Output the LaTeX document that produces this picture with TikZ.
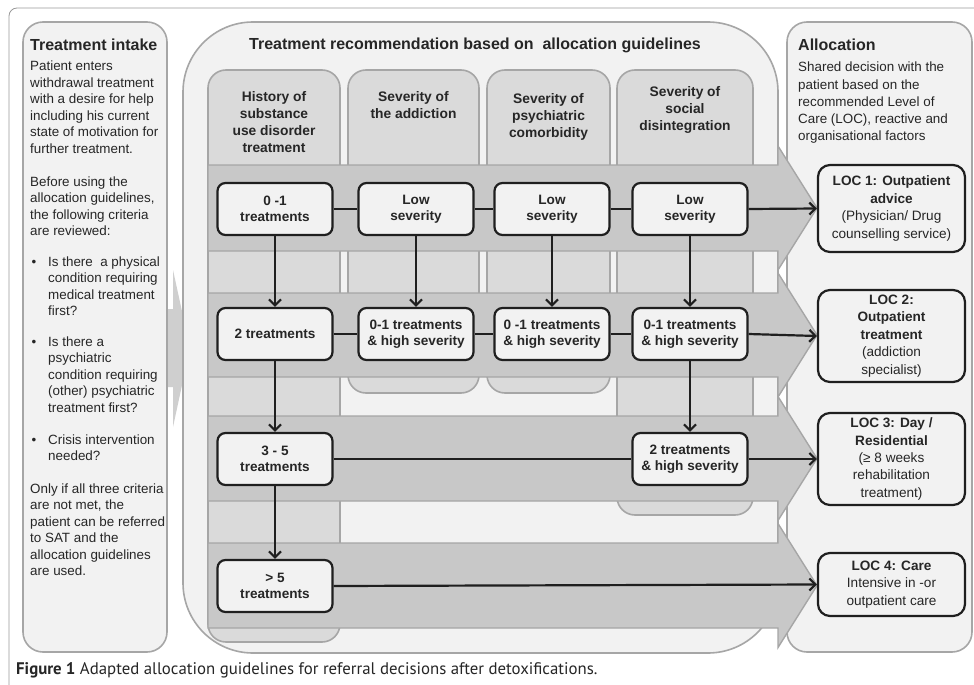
\documentclass[tikz,border=0pt]{standalone}
\usepackage{fontspec}
\setmainfont{Liberation Sans}
\newfontfamily\capfont{PT Sans}
\usetikzlibrary{arrows.meta}
\definecolor{panelfill}{HTML}{F2F2F2}
\definecolor{panelline}{HTML}{A6A6A6}
\definecolor{colfill}{HTML}{DADADA}
\definecolor{bandfill}{HTML}{C8C8C8}
\definecolor{inkdark}{HTML}{1F1F1F}
\definecolor{textdark}{HTML}{262626}
\newcommand\txtfont{\fontsize{13.4}{16.5}\selectfont}
\newcommand\alfont{\fontsize{13.4}{17.2}\selectfont}
\newcommand\ttlfont{\fontsize{16}{19}\selectfont\bfseries}
\newcommand\bandfont{\fontsize{13.6}{16}\selectfont\bfseries}
\newcommand\hdfont{\fontsize{13.8}{17}\selectfont\bfseries}
\newcommand\locfont{\fontsize{13.6}{17.4}\selectfont}

\begin{document}
\begin{tikzpicture}[x=1pt,y=-1pt,>={Straight Barb[length=6pt,width=12pt]},
  panel/.style={draw=panelline,fill=panelfill,line width=1.6pt},
  colbox/.style={draw=panelline,fill=colfill,line width=1.6pt,rounded corners=18pt},
  band/.style={draw=panelline,fill=bandfill,line width=1.4pt},
  bandbox/.style={draw=inkdark,fill=panelfill,line width=2.2pt,rounded corners=8pt,minimum width=115pt,minimum height=52pt,align=center,inner sep=2pt,font=\bandfont,text=textdark},
  locbox/.style={draw=inkdark,fill=panelfill,line width=2.2pt,rounded corners=12pt,minimum width=147pt,align=center,inner sep=2pt,font=\locfont,text=textdark},
  headtxt/.style={anchor=north,align=center,inner sep=0pt,font=\hdfont,text=textdark},
  flow/.style={draw=inkdark,line width=2.2pt}]
  \useasboundingbox[fill=white] (0,0) rectangle (974,685);
  \draw[gray!80,line width=0.8pt,rounded corners=8pt] (9,685) -- (9,8) -- (974,8);
  % arrow from intake to recommendation
  \fill[colfill!95!black] (160,309) -- (173,309) -- (173,270) -- (190,348) -- (173,427) -- (173,387) -- (160,387) -- cycle;
  % the three panels
  \draw[panel,rounded corners=20pt] (23,22) rectangle (167,652);
  \draw[panel,rounded corners=20pt] (787,22) rectangle (972,652);
  \draw[panel,rounded corners=70pt] (183,22) rectangle (778,653);
  \node[anchor=west,inner sep=0pt,font=\ttlfont,text=textdark] (intaketitle) at (30,45) {Treatment intake};
  \node[anchor=west,inner sep=0pt,font=\ttlfont,text=textdark] (alloctitle) at (798,45) {Allocation};
  \node[inner sep=0pt,font=\ttlfont,text=textdark] (rectitle) at (475,45) {Treatment recommendation based on~ allocation guidelines};
  \node[anchor=north west,align=left,inner sep=0pt,font=\txtfont,text=textdark] (intaketext) at (30,61)
    {Patient enters\\withdrawal treatment\\with a desire for help\\including his current\\state of motivation for\\further treatment.\\[16.5pt]
     Before using the\\allocation guidelines,\\the following criteria\\are reviewed:\\[14pt]
     \makebox[18pt][l]{\hspace{1.5pt}\textbullet}Is there~ a physical\\\hspace*{18pt}condition requiring\\\hspace*{18pt}medical treatment\\\hspace*{18pt}first?\\[14pt]
     \makebox[18pt][l]{\hspace{1.5pt}\textbullet}Is there a\\\hspace*{18pt}psychiatric\\\hspace*{18pt}condition requiring\\\hspace*{18pt}(other) psychiatric\\\hspace*{18pt}treatment first?\\[15.5pt]
     \makebox[18pt][l]{\hspace{1.5pt}\textbullet}Crisis intervention\\\hspace*{18pt}needed?\\[16pt]
     Only if all three criteria\\are not met, the\\patient can be referred\\to SAT and the\\allocation guidelines\\are used.};
  \node[anchor=north west,align=left,inner sep=0pt,font=\alfont,text=textdark] (alloctext) at (798,62)
    {Shared decision with the\\patient based on the\\recommended Level of\\Care (LOC), reactive and\\organisational factors};
  % criteria columns
  \draw[colbox] (208,70) rectangle (340,642);
  \draw[colbox] (348,70) rectangle (479,393);
  \draw[colbox] (487,70) rectangle (610,393);
  \draw[colbox] (617,70) rectangle (753,515);
  \node[headtxt] (histhead) at (274,91) {History of\\substance\\use disorder\\treatment};
  \node[headtxt] (addhead) at (413.5,91) {Severity of\\the addiction};
  \node[headtxt] (psyhead) at (548.5,93) {Severity of\\psychiatric\\comorbidity};
  \node[headtxt] (sochead) at (685,86) {Severity of\\social\\disintegration};
  % level bands
  \draw[band] (208,165) -- (778,165) -- (778,146) -- (817,208) -- (778,270) -- (778,251) -- (208,251) -- cycle;
  \draw[band] (208,293) -- (778,293) -- (778,273) -- (817,335) -- (778,397) -- (778,377) -- (208,377) -- cycle;
  \draw[band] (208,416) -- (778,416) -- (778,396.5) -- (817,458.5) -- (778,520.5) -- (778,501) -- (208,501) -- cycle;
  \draw[band] (208,543) -- (778,543) -- (778,523.5) -- (817,585.5) -- (778,647.5) -- (778,628) -- (208,628) -- cycle;
  \node[bandbox] (hist1) at (275,209) {0 -1\\treatments};
  \node[bandbox] (add1) at (416,209) {Low\\severity};
  \node[bandbox] (psy1) at (552,209) {Low\\severity};
  \node[bandbox] (soc1) at (690,209) {Low\\severity};
  \node[bandbox] (hist2) at (275,334) {2 treatments};
  \node[bandbox] (add2) at (416,334) {0-1 treatments\\\& high severity};
  \node[bandbox] (psy2) at (552,334) {0 -1 treatments\\\& high severity};
  \node[bandbox] (soc2) at (690,334) {0-1 treatments\\\& high severity};
  \node[bandbox] (hist3) at (275,459) {3 - 5\\treatments};
  \node[bandbox] (soc3) at (690,459) {2 treatments\\\& high severity};
  \node[bandbox] (hist4) at (275,586) {> 5\\treatments};
  \node[locbox,minimum height=87pt] (loc1) at (891.5,208.5) {\textbf{LOC 1: Outpatient}\\\textbf{advice}\\(Physician/ Drug\\counselling service)};
  \node[locbox,minimum height=92pt] (loc2) at (891.5,336) {\textbf{LOC 2:}\\\textbf{Outpatient}\\\textbf{treatment}\\(addiction\\specialist)};
  \node[locbox,minimum height=92pt] (loc3) at (891.5,459) {\textbf{LOC 3: Day /}\\\textbf{Residential}\\(≥ 8 weeks\\rehabilitation\\treatment)};
  \node[locbox,minimum height=63pt] (loc4) at (891.5,584.5) {\textbf{LOC 4: Care}\\Intensive in -or\\outpatient care};
  \draw[flow] (hist1.east) -- (add1.west);
  \draw[flow] (add1.east) -- (psy1.west);
  \draw[flow] (psy1.east) -- (soc1.west);
  \draw[flow,->] (soc1.east) -- (loc1.west);
  \draw[flow] (hist2.east) -- (add2.west);
  \draw[flow] (add2.east) -- (psy2.west);
  \draw[flow] (psy2.east) -- (soc2.west);
  \draw[flow,->] (soc2.east) -- (loc2.west);
  \draw[flow] (hist3.east) -- (soc3.west);
  \draw[flow,->] (soc3.east) -- (loc3.west);
  \draw[flow,->] (hist4.east) -- (loc4.west);
  \draw[flow,->] (hist1.south) -- (hist2.north);
  \draw[flow,->] (hist2.south) -- (hist3.north);
  \draw[flow,->] (hist3.south) -- (hist4.north);
  \draw[flow,->] (add1.south) -- (add2.north);
  \draw[flow,->] (psy1.south) -- (psy2.north);
  \draw[flow,->] (soc1.south) -- (soc2.north);
  \draw[flow,->] (soc2.south) -- (soc3.north);
  \node[anchor=west,inner sep=0pt,font=\capfont\fontsize{16.8}{20}\selectfont,text=textdark] (caption) at (16,670)
    {\textbf{Figure 1} Adapted allocation guidelines for referral decisions after detoxifications.};
\end{tikzpicture}
\end{document}
